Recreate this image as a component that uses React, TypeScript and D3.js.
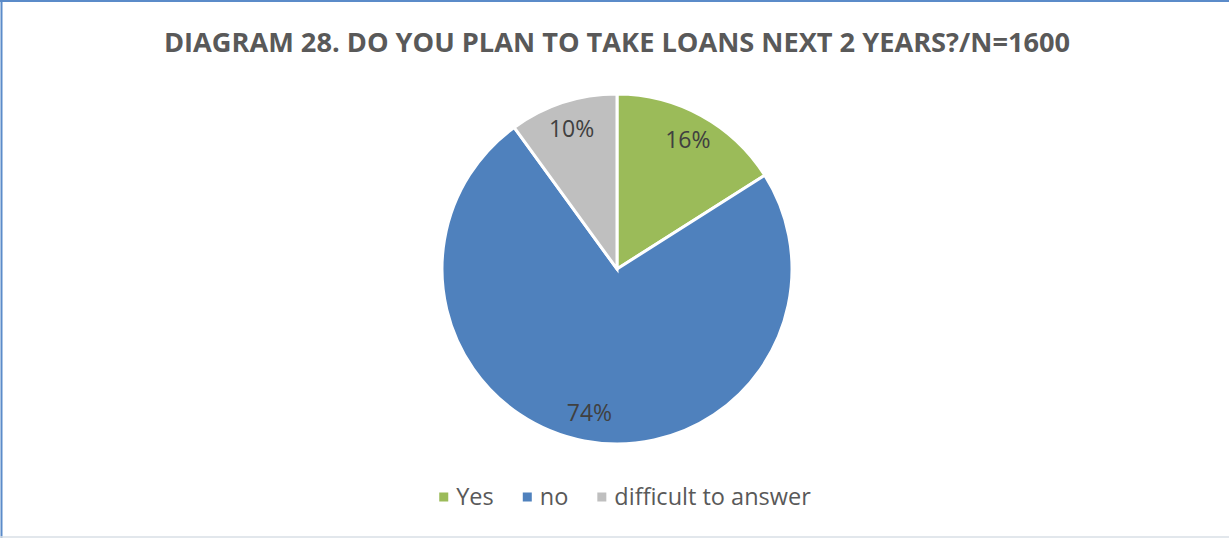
import React, { useEffect } from "react";
import * as d3 from "d3";

const categories = ["Yes", "no", "difficult to answer"];
const shares = [16, 74, 10];
const colors = ["#9BBB59", "#4F81BD", "#BFBFBF"];
const title = "DIAGRAM 28. DO YOU PLAN TO TAKE LOANS NEXT 2 YEARS?/N=1600";

const W = 1229;
const H = 538;
const cx = 617;
const cy = 269;
const radius = 175;
const labelRadius = 147;
const FONT = "'Open Sans', 'Liberation Sans', sans-serif";

function textWidth(text: string, font: string): number {
  const c = document.createElement("canvas").getContext("2d");
  if (!c) return text.length * 10;
  c.font = font;
  return c.measureText(text).width;
}

export default function App() {
  useEffect(() => {
    document.body.style.margin = "0";
  }, []);

  const data = categories.map((name, i) => ({ name, value: shares[i], color: colors[i] }));
  const pie = d3.pie<any>().value((d) => d.value).sort(null);
  const arcs = pie(data);
  const arc = d3.arc<any>().innerRadius(0).outerRadius(radius);
  const labelArc = d3.arc<any>().innerRadius(labelRadius).outerRadius(labelRadius);

  // legend layout: marker, gap, text, spacing
  const legendFontSize = 23.5;
  const legendFont = `${legendFontSize}px ${FONT}`;
  const marker = 9;
  const gapAfterMarker = 8;
  const itemSpacing = 29;
  const widths = categories.map((c) => textWidth(c, legendFont));
  const total =
    widths.reduce((a, b) => a + b, 0) +
    categories.length * (marker + gapAfterMarker) +
    (categories.length - 1) * itemSpacing;
  let x0 = cx + 8 - total / 2;
  const legendItems = categories.map((c, i) => {
    const x = x0;
    x0 += marker + gapAfterMarker + widths[i] + itemSpacing;
    return { name: c, x, color: colors[i] };
  });
  const legendY = 497;

  return (
    <svg width={W} height={H} style={{ display: "block", background: "#fff" }}>
      <rect x={0} y={0} width={W} height={H} fill="#fff" />
      <line x1={0} y1={1} x2={W} y2={1} stroke="#5B8BC9" strokeWidth={2} />
      <line x1={1.5} y1={0} x2={1.5} y2={H} stroke="#5B8BC9" strokeWidth={2} />
      <line x1={0} y1={H - 1} x2={W} y2={H - 1} stroke="#D9DFE6" strokeWidth={1.5} />

      <text
        x={cx}
        y={52}
        textAnchor="middle"
        fontFamily={FONT}
        fontWeight="bold"
        fontSize={27.2}
        fill="#595959"
      >
        {title}
      </text>

      <g transform={`translate(${cx},${cy})`}>
        {arcs.map((a, i) => (
          <path key={i} d={arc(a) as string} fill={a.data.color} stroke="#fff" strokeWidth={3} />
        ))}
        {arcs.map((a, i) => {
          const [lx, ly] = labelArc.centroid(a);
          return (
            <text
              key={"l" + i}
              x={lx}
              y={ly}
              dy="0.35em"
              textAnchor="middle"
              fontFamily={FONT}
              fontSize={23}
              fill="#404040"
            >
              {`${a.data.value}%`}
            </text>
          );
        })}
      </g>

      <g>
        {legendItems.map((it, i) => (
          <g key={i}>
            <rect x={it.x} y={legendY - marker / 2} width={marker} height={marker} fill={it.color} />
            <text
              x={it.x + marker + gapAfterMarker}
              y={legendY}
              dy="0.35em"
              fontFamily={FONT}
              fontSize={legendFontSize}
              fill="#595959"
            >
              {it.name}
            </text>
          </g>
        ))}
      </g>
    </svg>
  );
}
